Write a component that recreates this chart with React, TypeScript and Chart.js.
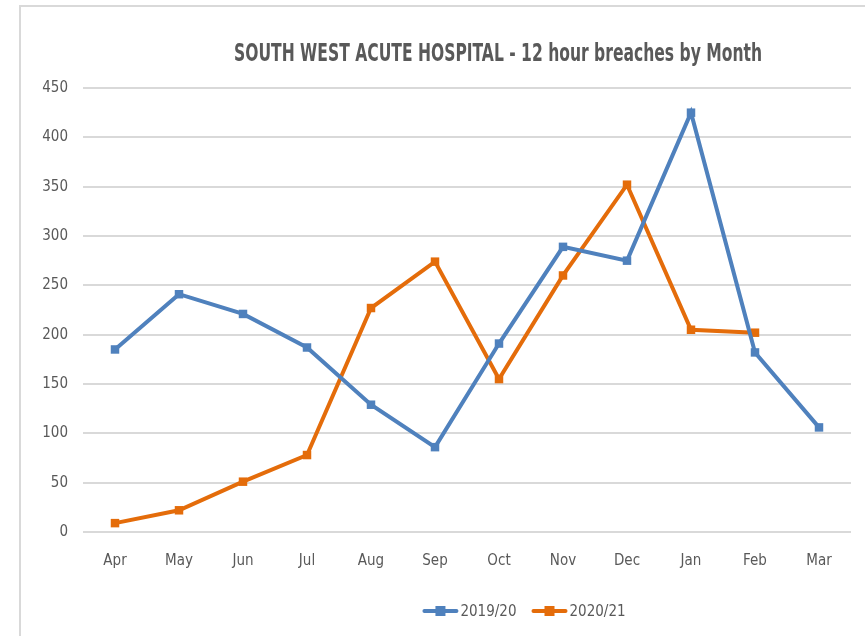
import React, { useEffect, useRef } from "react";
import { Chart, registerables } from "chart.js";

Chart.register(...registerables);

const months = ["Apr", "May", "Jun", "Jul", "Aug", "Sep", "Oct", "Nov", "Dec", "Jan", "Feb", "Mar"];
const series2019 = [185, 241, 221, 187, 129, 86, 191, 289, 275, 425, 182, 106];
const series2020: (number | null)[] = [9, 22, 51, 78, 227, 274, 155, 260, 352, 205, 202, null];
const yTicks = [0, 50, 100, 150, 200, 250, 300, 350, 400, 450];
const titleText = "SOUTH WEST ACUTE HOSPITAL - 12 hour breaches by Month";
const seriesNames = ["2019/20", "2020/21"];

const BLUE = "#4f81bd";
const ORANGE = "#e46c0a";
const FONT = "'Liberation Sans Narrow', 'DejaVu Sans Condensed', 'Open Sans', sans-serif";

const decorPlugin = {
  id: "decor",
  afterDraw(chart: any) {
    const ctx = chart.ctx;
    const area = chart.chartArea;
    ctx.save();
    // title (horizontally condensed)
    ctx.fillStyle = "#595959";
    ctx.font = `bold 24px ${FONT}`;
    ctx.textAlign = "center";
    ctx.textBaseline = "middle";
    const tw = ctx.measureText(titleText).width;
    const sx = Math.min(1, 528 / tw);
    const cx = (area.left + area.right) / 2 + 31;
    ctx.save();
    ctx.translate(cx, 55);
    ctx.scale(sx, 1);
    ctx.fillText(titleText, 0, 0);
    ctx.restore();
    // legend
    ctx.font = `15px ${FONT}`;
    ctx.textAlign = "left";
    const items = chart.data.datasets.map((d: any) => ({ label: d.label, color: d.borderColor }));
    const lineW = 36;
    const gap = 2;
    const itemGap = 15;
    const widths = items.map((it: any) => lineW + gap + ctx.measureText(it.label).width);
    const total = widths.reduce((a: number, b: number) => a + b, 0) + itemGap * (items.length - 1);
    let x = (area.left + area.right) / 2 + 57 - total / 2;
    const y = 611;
    items.forEach((it: any, i: number) => {
      ctx.strokeStyle = it.color;
      ctx.lineWidth = 4;
      ctx.lineCap = "round";
      ctx.beginPath();
      ctx.moveTo(x + 2, y);
      ctx.lineTo(x + lineW - 2, y);
      ctx.stroke();
      ctx.fillStyle = it.color;
      ctx.fillRect(x + lineW / 2 - 5, y - 5, 10, 10);
      ctx.fillStyle = "#595959";
      ctx.fillText(it.label, x + lineW + gap, y + 1);
      x += widths[i] + itemGap;
    });
    ctx.restore();
  },
};

export default function App() {
  const ref = useRef<HTMLCanvasElement | null>(null);
  useEffect(() => {
    if (!ref.current) return;
    const chart = new Chart(ref.current, {
      type: "line",
      data: {
        labels: months,
        datasets: [
          {
            label: seriesNames[0],
            data: series2019,
            borderColor: BLUE,
            backgroundColor: BLUE,
            borderWidth: 4,
            pointStyle: "rect",
            pointRadius: 6,
            pointBorderWidth: 0,
            tension: 0,
          },
          {
            label: seriesNames[1],
            data: series2020,
            borderColor: ORANGE,
            backgroundColor: ORANGE,
            borderWidth: 4,
            pointStyle: "rect",
            pointRadius: 6,
            pointBorderWidth: 0,
            tension: 0,
          },
        ],
      },
      options: {
        animation: false,
        responsive: false,
        maintainAspectRatio: false,
        layout: { padding: { left: 0, right: 14, top: 88, bottom: 64 } },
        plugins: { legend: { display: false }, title: { display: false }, tooltip: { enabled: false } },
        scales: {
          x: {
            offset: true,
            grid: { display: false, drawTicks: false },
            border: { display: false },
            ticks: { color: "#595959", font: { family: FONT, size: 15 }, padding: 20, maxRotation: 0 },
            afterFit: (s: any) => { s.height = 40; },
          },
          y: {
            min: 0,
            max: 450,
            afterBuildTicks: (s: any) => { s.ticks = yTicks.map((v) => ({ value: v })); },
            grid: { color: "#d9d9d9", lineWidth: 2, drawTicks: false },
            border: { display: false },
            ticks: { color: "#595959", font: { family: FONT, size: 15 }, padding: 15 },
            afterFit: (s: any) => { s.width = 83; },
          },
        },
      },
      plugins: [decorPlugin],
    });
    return () => chart.destroy();
  }, []);
  return (
    <div style={{ position: "fixed", left: 0, top: 0, width: 865, height: 636, background: "#fff" }}>
      <div style={{ position: "absolute", left: 19, top: 5, width: 900, height: 700, borderLeft: "2px solid #d9d9d9", borderTop: "2px solid #d9d9d9" }} />
      <canvas ref={ref} width={865} height={636} style={{ position: "absolute", left: 0, top: 0 }} />
    </div>
  );
}
